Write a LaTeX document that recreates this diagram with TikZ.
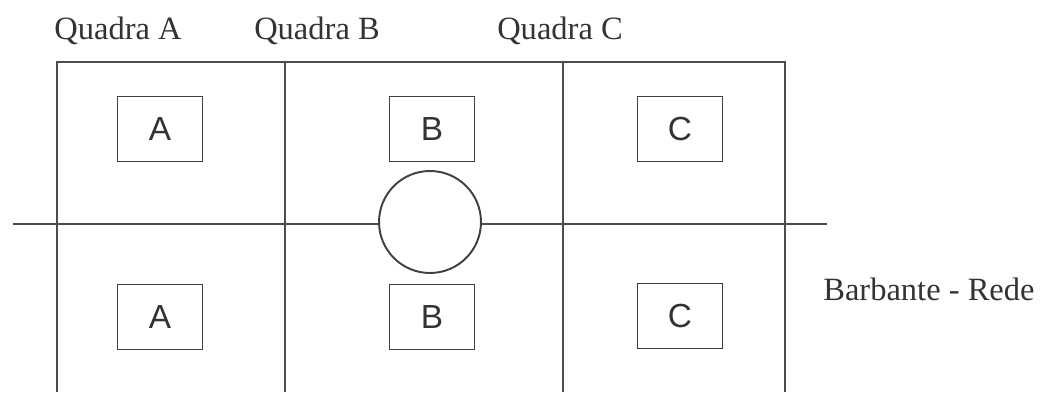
\documentclass[tikz,border=0pt]{standalone}
\usepackage{fontspec}
\setmainfont{Liberation Serif}
\newfontfamily\boxfont{Liberation Sans}
\begin{document}
\begin{tikzpicture}[x=0.02cm,y=-0.02cm,
  line/.style={draw=black!70,line width=1.1pt},
  cellbox/.style={draw=black!75,line width=1.1pt,minimum width=1.7cm,minimum height=1.3cm,inner sep=0pt,font=\boxfont\fontsize{19}{22}\selectfont,text=black!80},
  ball/.style={circle,draw=black!75,line width=1.1pt,fill=white,minimum size=2.04cm,inner sep=0pt},
  lbl/.style={font=\fontsize{18.5}{22}\selectfont,text=black!80,inner sep=0pt}]
\useasboundingbox (0,0) rectangle (1050,392);
% frame corners
\coordinate (tl) at (57,62);
\coordinate (tr) at (785,62);
\coordinate (bl) at (57,392);
\coordinate (br) at (785,392);
\coordinate (d1t) at (285,62);
\coordinate (d1b) at (285,392);
\coordinate (d2t) at (563,62);
\coordinate (d2b) at (563,392);
\coordinate (netL) at (13,224);
\coordinate (netR) at (827,224);
\draw[line] (bl) -- (tl) -- (tr) -- (br);
\draw[line] (d1t) -- (d1b);
\draw[line] (d2t) -- (d2b);
\draw[line] (netL) -- (netR);
\node[ball] (ball) at (430,222) {};
% boxes
\node[cellbox] (a1) at (160,129) {A};
\node[cellbox] (b1) at (432,129) {B};
\node[cellbox] (c1) at (680,129) {C};
\node[cellbox] (a2) at (160,317) {A};
\node[cellbox] (b2) at (432,317) {B};
\node[cellbox] (c2) at (680,316) {C};
% labels
\node[lbl,anchor=base] (qa) at (118,39) {Quadra A};
\node[lbl,anchor=base] (qb) at (317,39) {Quadra B};
\node[lbl,anchor=base] (qc) at (560,39) {Quadra C};
\node[lbl,anchor=base west] (rede) at (823,300) {Barbante - Rede};
\end{tikzpicture}
\end{document}
